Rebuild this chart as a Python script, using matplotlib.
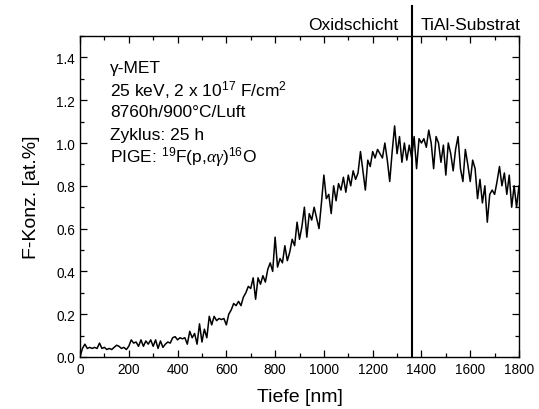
import matplotlib
matplotlib.use("Agg")
import matplotlib.pyplot as plt
from matplotlib.ticker import MultipleLocator

plt.rcParams['font.family'] = ['Liberation Sans', 'DejaVu Sans']
plt.rcParams['mathtext.fontset'] = 'custom'
plt.rcParams['mathtext.rm'] = 'Liberation Sans'
plt.rcParams['mathtext.it'] = 'Liberation Serif:italic'
plt.rcParams['mathtext.default'] = 'rm'

depth_step_nm = 10
depth_start_nm = 0
f_conc = [
    0.00, 0.04, 0.06, 0.04, 0.045, 0.04, 0.045, 0.04, 0.065, 0.04,
    0.045, 0.035, 0.04, 0.035, 0.045, 0.055, 0.05, 0.04, 0.045, 0.035,
    0.05, 0.08, 0.065, 0.07, 0.05, 0.08, 0.05, 0.075, 0.06, 0.08,
    0.05, 0.08, 0.04, 0.075, 0.045, 0.06, 0.07, 0.065, 0.09, 0.095,
    0.08, 0.09, 0.085, 0.09, 0.06, 0.12, 0.09, 0.11, 0.06, 0.155,
    0.07, 0.13, 0.09, 0.19, 0.15, 0.19, 0.17, 0.18, 0.175, 0.18,
    0.15, 0.20, 0.22, 0.25, 0.24, 0.26, 0.24, 0.28, 0.30, 0.33,
    0.32, 0.37, 0.27, 0.37, 0.34, 0.38, 0.35, 0.41, 0.44, 0.40,
    0.56, 0.42, 0.46, 0.44, 0.52, 0.45, 0.49, 0.55, 0.52, 0.63,
    0.55, 0.61, 0.70, 0.56, 0.67, 0.64, 0.70, 0.65, 0.60, 0.72,
    0.85, 0.74, 0.76, 0.67, 0.80, 0.73, 0.81, 0.78, 0.84, 0.77,
    0.85, 0.80, 0.87, 0.83, 0.86, 0.96, 0.87, 0.78, 0.92, 0.89,
    0.96, 0.93, 0.97, 0.95, 0.93, 1.00, 0.92, 0.82, 0.96, 1.08,
    0.95, 1.03, 0.91, 1.00, 0.92, 0.99, 0.93, 1.03, 0.88, 1.02,
    1.00, 1.02, 0.98, 1.06, 1.00, 0.88, 1.03, 1.00, 0.91, 0.99,
    0.85, 1.00, 0.95, 0.87, 0.97, 1.03, 0.88, 0.82, 0.97, 0.90,
    0.82, 0.92, 0.88, 0.74, 0.83, 0.72, 0.80, 0.63, 0.76, 0.78,
    0.76, 0.82, 0.89, 0.80, 0.86, 0.76, 0.85, 0.70, 0.80, 0.70,
    0.80,
]
depth_nm = [depth_start_nm + i * depth_step_nm for i in range(len(f_conc))]

interface_nm = 1360
x_ticks = [0, 200, 400, 600, 800, 1000, 1200, 1400, 1600, 1800]
y_ticks = [0.0, 0.2, 0.4, 0.6, 0.8, 1.0, 1.2, 1.4]
info_lines = [
    "\u03b3-MET",
    "25 keV, 2 x 10$^{17}$ F/cm$^{2}$",
    "8760h/900\u00b0C/Luft",
    "Zyklus: 25 h",
    "PIGE: $^{19}$F(p,$\\it{\\alpha\\gamma}$)$^{16}$O",
]
region_labels = ["Oxidschicht", "TiAl-Substrat"]

fig = plt.figure(figsize=(5.39, 4.10), dpi=100)
ax = fig.add_axes([80/539, 52/410, 439/539, 321/410])

ax.plot(depth_nm, f_conc, color='black', lw=1.1)
ax.axvline(interface_nm, ymin=0, ymax=1.093, color='black', lw=1.5, clip_on=False)

ax.set_xlim(0, 1800)
ax.set_ylim(0, 1.5)
ax.set_xticks(x_ticks)
ax.set_yticks(y_ticks)
ax.set_yticklabels([f"{v:.1f}" for v in y_ticks])
ax.xaxis.set_minor_locator(MultipleLocator(100))
ax.yaxis.set_minor_locator(MultipleLocator(0.1))
ax.tick_params(which='both', direction='in', top=True, right=True, labelsize=9.8, width=0.9)
ax.tick_params(which='major', length=5)
ax.tick_params(which='minor', length=3)
for s in ax.spines.values():
    s.set_linewidth(1.0)

ax.set_xlabel("Tiefe [nm]", fontsize=14, labelpad=9)
ax.set_ylabel("F-Konz. [at.%]", fontsize=14, labelpad=12)

for i, line in enumerate(info_lines):
    ax.text(0.068, 0.903 - i * 0.0695, line, transform=ax.transAxes,
            fontsize=12.5, va='center', ha='left')

ax.text(interface_nm - 55, 1.037, region_labels[0], transform=ax.get_xaxis_transform(),
        fontsize=12.5, ha='right', va='center')
ax.text(interface_nm + 35, 1.037, region_labels[1], transform=ax.get_xaxis_transform(),
        fontsize=12.5, ha='left', va='center')

fig.savefig("out.png", dpi=100)
